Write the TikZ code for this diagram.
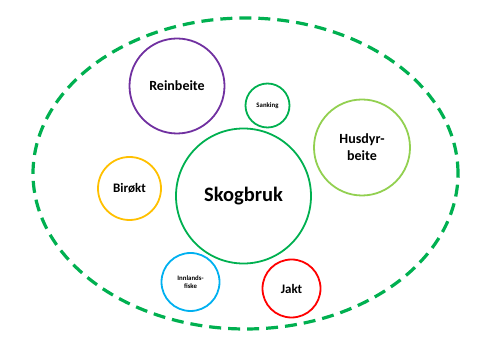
\documentclass[tikz,border=0pt]{standalone}
\usepackage{fontspec}
\setmainfont{Carlito}
\usetikzlibrary{shapes.geometric}
\definecolor{cgreen}{HTML}{00B050}
\definecolor{clgreen}{HTML}{92D050}
\definecolor{cpurple}{HTML}{7030A0}
\definecolor{cyellow}{HTML}{FFC000}
\definecolor{cblue}{HTML}{00B0F0}
\definecolor{cred}{HTML}{FF0000}
\tikzset{
  bubble/.style={circle,draw=#1,line width=1.8pt,inner sep=0pt,align=center,font=\bfseries},
  area/.style={ellipse,draw=cgreen,line width=3.2pt,dash pattern=on 12pt off 7pt,inner sep=0pt}
}
\begin{document}
\begin{tikzpicture}[x=1pt,y=-1pt]
\useasboundingbox (0,0) rectangle (490,344);
\node[area,minimum width=425pt,minimum height=311pt] (omr) at (245.5,173.5) {};
\node[bubble=cpurple,minimum size=95pt,font=\bfseries\fontsize{14}{16}\selectfont] (rein) at (177,86) {Reinbeite};
\node[bubble=cgreen,minimum size=44pt,font=\bfseries\fontsize{6.8}{8}\selectfont] (sank) at (267.5,105.5) {Sanking};
\node[bubble=clgreen,minimum size=96pt,font=\bfseries\fontsize{14}{17}\selectfont] (husd) at (362,147.5) {Husdyr-\\beite};
\node[bubble=cgreen,minimum size=135pt,font=\bfseries\fontsize{20.5}{24}\selectfont] (skog) at (243.5,196) {Skogbruk};
\node[bubble=cyellow,minimum size=63pt,font=\bfseries\fontsize{13}{15}\selectfont] (biro) at (129.5,188.5) {Birøkt};
\node[bubble=cblue,minimum size=58pt,font=\bfseries\fontsize{6.8}{8.5}\selectfont] (fisk) at (190.5,282) {Innlands-\\fiske};
\node[bubble=cred,minimum size=58pt,font=\bfseries\fontsize{13}{15}\selectfont] (jakt) at (291.5,288.5) {Jakt};
\end{tikzpicture}
\end{document}
